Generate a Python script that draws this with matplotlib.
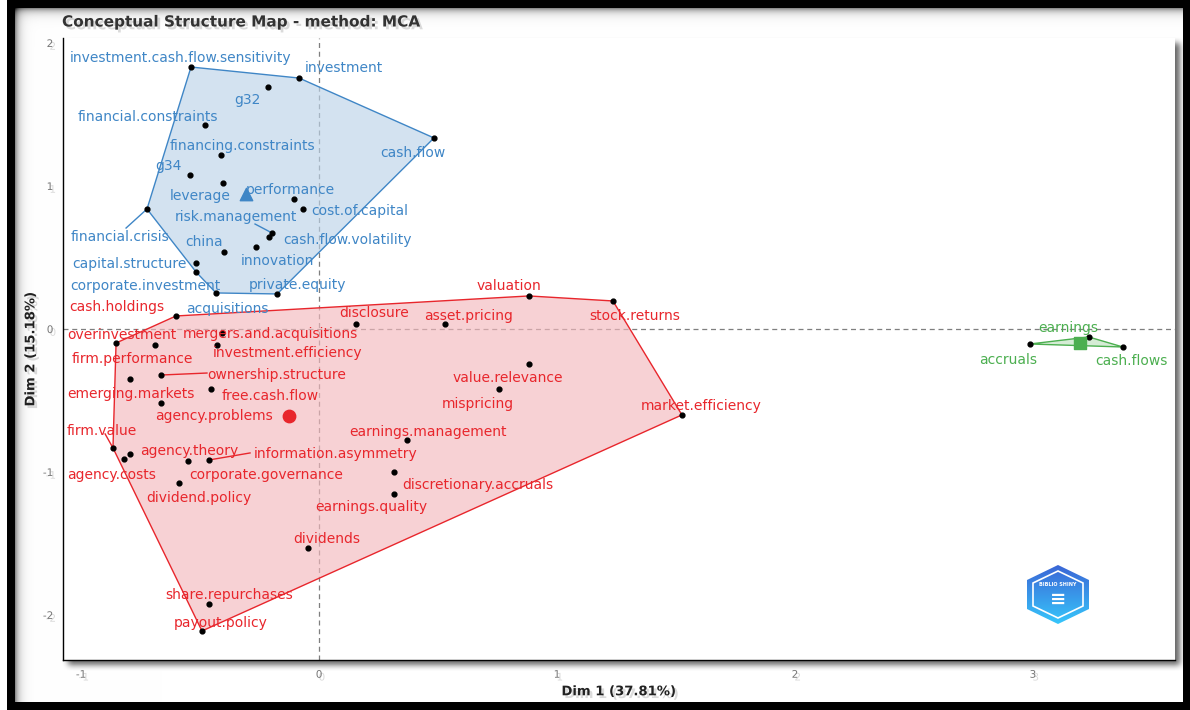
import numpy as np
import matplotlib.pyplot as plt
from matplotlib import patheffects as pe
from matplotlib.patches import Polygon

plt.rcParams['axes.unicode_minus'] = False

# ---- cluster 1 (blue) ----
blue_words = ['investment.cash.flow.sensitivity', 'investment', 'g32', 'financial.constraints',
              'cash.flow', 'financing.constraints', 'g34', 'leverage', 'performance',
              'cost.of.capital', 'financial.crisis', 'risk.management', 'cash.flow.volatility',
              'innovation', 'china', 'capital.structure', 'corporate.investment',
              'acquisitions', 'private.equity']
blue_x = [-0.538, -0.084, -0.214, -0.479, 0.483, -0.412, -0.542, -0.403, -0.105,
          -0.067, -0.723, -0.197, -0.210, -0.265, -0.399, -0.517, -0.517, -0.433, -0.176]
blue_y = [1.832, 1.755, 1.692, 1.427, 1.336, 1.217, 1.077, 1.021, 0.909,
          0.839, 0.839, 0.671, 0.643, 0.573, 0.538, 0.462, 0.399, 0.252, 0.245]
blue_lx = [-0.584, 0.105, -0.303, -0.718, 0.395, -0.324, -0.634, -0.500, -0.122,
           0.172, -0.836, -0.349, 0.118, -0.176, -0.483, -0.798, -0.731, -0.387, -0.092]
blue_ly = [1.895, 1.825, 1.601, 1.483, 1.231, 1.280, 1.140, 0.930, 0.972,
           0.825, 0.643, 0.783, 0.622, 0.476, 0.608, 0.455, 0.301, 0.140, 0.308]

# ---- cluster 2 (red) ----
red_words = ['cash.holdings', 'overinvestment', 'firm.performance', 'mergers.and.acquisitions',
             'investment.efficiency', 'emerging.markets', 'ownership.structure', 'free.cash.flow',
             'agency.problems', 'firm.value', 'agency.theory', 'agency.costs',
             'corporate.governance', 'information.asymmetry', 'dividend.policy',
             'earnings.management', 'discretionary.accruals', 'earnings.quality', 'dividends',
             'share.repurchases', 'payout.policy', 'valuation', 'stock.returns', 'disclosure',
             'asset.pricing', 'value.relevance', 'mispricing', 'market.efficiency']
red_x = [-0.601, -0.853, -0.689, -0.408, -0.429, -0.794, -0.664, -0.454, -0.664, -0.866,
         -0.794, -0.819, -0.550, -0.462, -0.588, 0.370, 0.315, 0.315, -0.046, -0.462,
         -0.492, 0.882, 1.235, 0.155, 0.529, 0.882, 0.756, 1.525]
red_y = [0.091, -0.098, -0.112, -0.028, -0.112, -0.350, -0.322, -0.420, -0.517, -0.832,
         -0.874, -0.909, -0.923, -0.916, -1.077, -0.776, -1.000, -1.154, -1.531, -1.923,
         -2.112, 0.231, 0.196, 0.035, 0.035, -0.245, -0.420, -0.601]
red_lx = [-0.849, -0.828, -0.786, -0.206, -0.134, -0.790, -0.176, -0.206, -0.441, -0.912,
          -0.546, -0.870, -0.223, 0.071, -0.504, 0.458, 0.668, 0.218, 0.034, -0.378,
          -0.412, 0.798, 1.328, 0.231, 0.630, 0.794, 0.668, 1.605]
red_ly = [0.154, -0.042, -0.210, -0.035, -0.168, -0.455, -0.322, -0.469, -0.608, -0.713,
          -0.853, -1.021, -1.021, -0.874, -1.182, -0.720, -1.091, -1.245, -1.469, -1.860,
          -2.056, 0.301, 0.091, 0.112, 0.091, -0.343, -0.524, -0.538]

# ---- cluster 3 (green) ----
green_words = ['accruals', 'earnings', 'cash.flows']
green_x = [2.987, 3.235, 3.378]
green_y = [-0.105, -0.056, -0.126]
green_lx = [2.895, 3.147, 3.416]
green_ly = [-0.217, 0.007, -0.224]

# centroids
cent_x = [-0.307, -0.126, 3.197]
cent_y = [0.944, -0.608, -0.098]

# leader lines (word -> end of segment near its label)
seg_words = ['financial.crisis', 'risk.management', 'ownership.structure', 'firm.value',
             'information.asymmetry']
seg_x = [-0.811, -0.269, -0.471, -0.899, -0.290]
seg_y = [0.706, 0.734, -0.308, -0.734, -0.867]


def hull(xs, ys):
    pts = sorted(set(zip(xs, ys)))

    def cross(o, a, b):
        return (a[0] - o[0]) * (b[1] - o[1]) - (a[1] - o[1]) * (b[0] - o[0])
    lower, upper = [], []
    for p in pts:
        while len(lower) >= 2 and cross(lower[-2], lower[-1], p) <= 0:
            lower.pop()
        lower.append(p)
    for p in reversed(pts):
        while len(upper) >= 2 and cross(upper[-2], upper[-1], p) <= 0:
            upper.pop()
        upper.append(p)
    return np.array(lower[:-1] + upper[:-1])


W, H = 1190, 710
fig = plt.figure(figsize=(W / 100, H / 100), dpi=100)

# background: black frame + soft shadows
yy, xx = np.mgrid[0:H, 0:W]
dark = 0.45 * np.exp(-np.clip(yy - 8, 0, None) / 4.0) + 0.45 * np.exp(-np.clip(xx - 15, 0, None) / 4.0)
panel = np.zeros((H, W))
panel[43:665, 68:1180] = 1.0
k = np.ones(7) / 7
for _ in range(2):
    panel = np.apply_along_axis(lambda m: np.convolve(m, k, mode='same'), 0, panel)
    panel = np.apply_along_axis(lambda m: np.convolve(m, k, mode='same'), 1, panel)
dark += 0.6 * panel
img = 1 - np.clip(dark, 0, 1)
img[:, :7] = 1
img[:8, 7:] = 0
img[702:, 7:] = 0
img[:, 7:15] = 0
img[:, 1183:] = 0
bg = fig.add_axes([0, 0, 1, 1], zorder=-5)
bg.imshow(np.dstack([img] * 3), aspect='auto', extent=(0, W, H, 0))
bg.axis('off')

ax = fig.add_axes([63 / W, 50 / H, 1112 / W, 622 / H])
ax.set_facecolor('white')
ax.set_xlim(-1.076, 3.597)
ax.set_ylim(-2.315, 2.035)
for s in ['top', 'right']:
    ax.spines[s].set_visible(False)
for s in ['left', 'bottom']:
    ax.spines[s].set_color('black')
    ax.spines[s].set_linewidth(1.0)

ax.axvline(0, color='#7f7f7f', lw=0.9, ls=(0, (4, 3)), zorder=1)
ax.axhline(0, color='#7f7f7f', lw=0.9, ls=(0, (4, 3)), zorder=1)

shadow = [pe.SimplePatchShadow(offset=(2, -2), shadow_rgbFace='#888888', alpha=0.3), pe.Normal()]

ax.set_xticks([-1, 0, 1, 2, 3])
ax.set_yticks([-2, -1, 0, 1, 2])
ax.tick_params(length=0, pad=7, labelsize=7.5, labelcolor='#777777')
for t in ax.get_xticklabels() + ax.get_yticklabels():
    t.set_path_effects(shadow)

clusters = [
    (blue_words, blue_x, blue_y, blue_lx, blue_ly, '#3f86c6', '#bcd3e8', '^'),
    (red_words, red_x, red_y, red_lx, red_ly, '#e8262c', '#f4b9bd', 'o'),
    (green_words, green_x, green_y, green_lx, green_ly, '#4caf50', '#bfe3bf', 's'),
]
for i, (words, xs, ys, lxs, lys, col, fill, mk) in enumerate(clusters):
    h = hull(xs, ys)
    ax.add_patch(Polygon(h, closed=True, facecolor=fill, alpha=0.65, edgecolor='none', zorder=2))
    ax.add_patch(Polygon(h, closed=True, facecolor='none', edgecolor=col, lw=1.0, zorder=3))
    for w, x, y in zip(seg_words, seg_x, seg_y):
        if w in words:
            j = words.index(w)
            ax.plot([xs[j], x], [ys[j], y], color=col, lw=1.0, zorder=3)
    ax.scatter(xs, ys, s=12, color='black', zorder=5)
    ax.scatter([cent_x[i]], [cent_y[i]], s=80, marker=mk, color=col, zorder=6)
    for w, lx, ly in zip(words, lxs, lys):
        ax.text(lx, ly, w, color=col, fontsize=10, ha='center', va='center', zorder=7)

ax.set_xlabel('Dim 1 (37.81%)', fontsize=9.5, fontweight='bold', color='#222222', labelpad=4,
              path_effects=shadow)
ax.set_ylabel('Dim 2 (15.18%)', fontsize=9.5, fontweight='bold', color='#222222', labelpad=4,
              path_effects=shadow)
fig.text(62 / W, 1 - 22 / H, 'Conceptual Structure Map - method: MCA', fontsize=11,
         fontweight='bold', color='#333333', ha='left', va='center', path_effects=shadow)

# logo (watermark)
lg = fig.add_axes([1027 / W, 86 / H, 62 / W, 59 / H], zorder=10)
lg.set_xlim(0, 62)
lg.set_ylim(0, 59)
lg.axis('off')
hexa = Polygon([(31, 59), (62, 44), (62, 15), (31, 0), (0, 15), (0, 44)], closed=True,
               facecolor='none', edgecolor='none')
lg.add_patch(hexa)
grad = np.linspace(0, 1, 100)[:, None]
cmap = plt.matplotlib.colors.LinearSegmentedColormap.from_list('lg', ['#37c6fb', '#3b66d6'])
im = lg.imshow(grad, cmap=cmap, extent=(0, 62, 0, 59), origin='lower', aspect='auto')
im.set_clip_path(hexa)
lg.add_patch(Polygon([(31, 53), (56, 41), (56, 18), (31, 6), (6, 18), (6, 41)], closed=True,
                     facecolor='none', edgecolor='white', lw=1.2))
lg.text(31, 40, 'BIBLIO SHINY', color='white', fontsize=3.5, fontweight='bold',
        ha='center', va='center')
lg.text(31, 25, '\u2261', color='white', fontsize=14, fontweight='bold', ha='center', va='center')

fig.savefig('out.png', dpi=100)
